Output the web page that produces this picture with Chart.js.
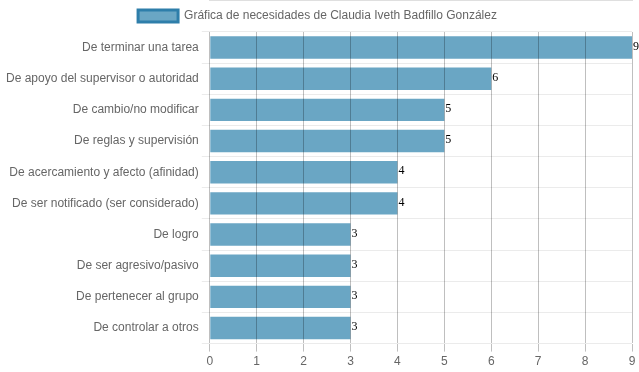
<!DOCTYPE html>
<html>
<head>
<meta charset="utf-8">
<script src="https://cdn.jsdelivr.net/npm/chart.js@4/dist/chart.umd.min.js"></script>
<style>
  html, body { margin: 0; padding: 0; background: #fff; }
  #wrap { width: 639px; height: 372px; }
</style>
</head>
<body>
<div id="wrap"><canvas id="needsChart"></canvas></div>
<script>
// data
const categories = [
  "De terminar una tarea",
  "De apoyo del supervisor o autoridad",
  "De cambio/no modificar",
  "De reglas y supervisión",
  "De acercamiento y afecto (afinidad)",
  "De ser notificado (ser considerado)",
  "De logro",
  "De ser agresivo/pasivo",
  "De pertenecer al grupo",
  "De controlar a otros"
];
const needValues = [9, 6, 5, 5, 4, 4, 3, 3, 3, 3];
const seriesLabel = "Gráfica de necesidades de Claudia Iveth Badfillo González";

// writes the value just past the end of each bar
const valueLabels = {
  id: "valueLabels",
  afterDatasetsDraw(chart) {
    const ctx = chart.ctx;
    const meta = chart.getDatasetMeta(0);
    ctx.save();
    ctx.font = "12px 'Liberation Serif', 'Times New Roman', serif";
    ctx.fillStyle = "#000";
    ctx.textAlign = "left";
    ctx.textBaseline = "middle";
    meta.data.forEach((bar, i) => {
      ctx.fillText(String(needValues[i]), bar.x + 1, bar.y - 1);
    });
    ctx.restore();
  }
};

new Chart(document.getElementById("needsChart"), {
  type: "bar",
  data: {
    labels: categories,
    datasets: [{
      label: seriesLabel,
      data: needValues,
      backgroundColor: "rgba(106,166,196,1)",
      borderColor: "rgba(46,126,170,1)",
      borderWidth: 0
    }]
  },
  options: {
    indexAxis: "y",
    responsive: true,
    maintainAspectRatio: false,
    animation: false,
    layout: { padding: { left: 3, right: 7, top: 0 } },
    plugins: {
      legend: {
        labels: {
          color: "#666",
          font: { family: "Arial, 'Liberation Sans', sans-serif", size: 12 },
          boxWidth: 40,
          generateLabels(chart) {
            return [{
              text: seriesLabel,
              fillStyle: "rgba(106,166,196,1)",
              strokeStyle: "rgba(46,126,170,1)",
              lineWidth: 3,
              fontColor: "#666",
              datasetIndex: 0
            }];
          }
        }
      },
      tooltip: { enabled: false }
    },
    scales: {
      x: {
        min: 0,
        max: 9,
        ticks: {
          stepSize: 1,
          color: "#666",
          font: { family: "Arial, 'Liberation Sans', sans-serif", size: 12 }
        },
        grid: { color: "rgba(0,0,0,0.25)", z: 1 },
        border: { color: "rgba(0,0,0,0.25)" }
      },
      y: {
        ticks: {
          autoSkip: false,
          color: "#666",
          font: { family: "Arial, 'Liberation Sans', sans-serif", size: 12 }
        },
        grid: { color: "rgba(0,0,0,0.08)", offset: true },
        border: { display: false }
      }
    }
  },
  plugins: [valueLabels]
});
</script>
</body>
</html>
